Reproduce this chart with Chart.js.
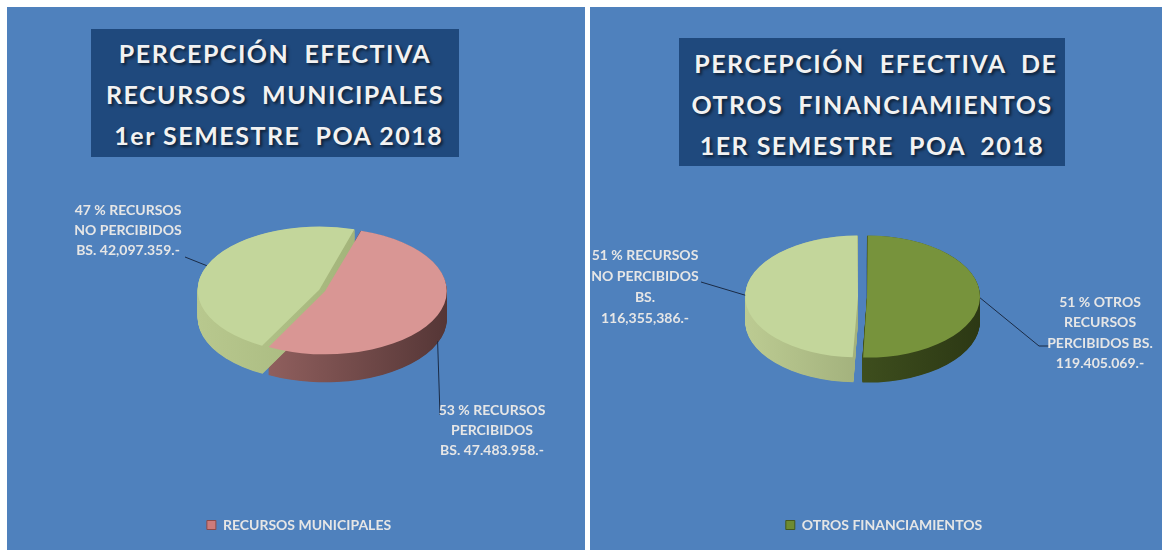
<!DOCTYPE html>
<html>
<head>
<meta charset="utf-8">
<script src="https://cdn.jsdelivr.net/npm/chart.js@4/dist/chart.umd.min.js"></script>
<style>
  body { margin: 0; background: #fff; width: 1162px; height: 550px; overflow: hidden; position: relative; font-family: Lato, sans-serif; }
  .panel { position: absolute; top: 7px; height: 543px; background: #4F81BD; }
  #p1 { left: 7px; width: 578px; }
  #p2 { left: 590px; width: 572px; }
  .panel canvas { position: absolute; left: 0; top: 0; }
  .title { position: absolute; box-sizing: border-box; background: #1F497D; color: #F2F2F2; font-weight: bold;
           font-size: 25px; line-height: 41px; letter-spacing: 1.5px; text-align: center; white-space: pre;
           text-shadow: 2px 2px 3px rgba(0,0,0,0.6); }
  #t1 { left: 84px; top: 22px; width: 368px; height: 128px; padding-top: 4px; }
  #t2 { left: 89px; top: 31px; width: 386px; height: 128px; padding-top: 5px; }
</style>
</head>
<body>
<div class="panel" id="p1">
  <canvas id="c1" width="578" height="543"></canvas>
  <div class="title" id="t1">PERCEPCIÓN  EFECTIVA
RECURSOS  MUNICIPALES
 1er SEMESTRE  POA 2018</div>
</div>
<div class="panel" id="p2">
  <canvas id="c2" width="572" height="543"></canvas>
  <div class="title" id="t2"> PERCEPCIÓN  EFECTIVA  DE
OTROS  FINANCIAMIENTOS
1ER SEMESTRE  POA  2018</div>
</div>
<script>
// datos
var muniLabels = ['RECURSOS PERCIBIDOS', 'RECURSOS NO PERCIBIDOS'];
var muniValues = [47483958, 42097359];
var muniText = [
  ['53 % RECURSOS', 'PERCIBIDOS', 'BS. 47.483.958.-'],
  ['47 % RECURSOS', 'NO PERCIBIDOS', 'BS. 42,097.359.-']
];

var otrosLabels = ['OTROS RECURSOS PERCIBIDOS', 'RECURSOS NO PERCIBIDOS'];
var otrosValues = [119405069, 116355386];
var otrosText = [
  ['51 % OTROS', 'RECURSOS', 'PERCIBIDOS BS.', '119.405.069.-'],
  ['51 % RECURSOS', 'NO PERCIBIDOS', 'BS.', '116,355,386.-']
];

// chart.js mueve el arco offset/4 y ademas agranda el radio
function arcShift(a) { return (a.options.offset || 0) / 4; }
function arcRadius(a) {
  var fix = 1 - Math.sin(Math.min(Math.PI, a.circumference || 0));
  return a.outerRadius + arcShift(a) * fix;
}

// pastel "3D": aplasta el circulo y dibuja el costado
var pie3d = {
  id: 'pie3d',
  beforeDatasetsDraw: function (chart, args, o) {
    var ctx = chart.ctx;
    var arcs = chart.getDatasetMeta(0).data;
    var c = arcs[0];
    ctx.save();
    ctx.translate(o.cx, o.cy);
    ctx.scale(1, o.squash);
    ctx.translate(-c.x, -c.y);
    var depth = o.depth / o.squash;
    arcs.forEach(function (a, i) {
      var mid = (a.startAngle + a.endAngle) / 2;
      var off = arcShift(a), R = arcRadius(a);
      var x = a.x + Math.cos(mid) * off, y = a.y + Math.sin(mid) * off;
      var g = ctx.createLinearGradient(x - R, 0, x + R, 0);
      g.addColorStop(0, o.sides[i][0]);
      g.addColorStop(1, o.sides[i][1]);
      ctx.fillStyle = g;
      for (var d = depth; d > 0; d -= 1) {
        ctx.beginPath();
        ctx.moveTo(x, y + d);
        ctx.arc(x, y + d, R, a.startAngle, a.endAngle);
        ctx.closePath();
        ctx.fill();
      }
    });
  },
  afterDatasetsDraw: function (chart) {
    chart.ctx.restore();
  },
  afterDraw: function (chart, args, o) {
    var ctx = chart.ctx;
    var arcs = chart.getDatasetMeta(0).data;
    ctx.save();
    ctx.font = 'bold 14px Lato';
    ctx.textAlign = 'center';
    ctx.textBaseline = 'middle';
    o.labels.forEach(function (lb, i) {
      var a = arcs[i];
      var mid = (a.startAngle + a.endAngle) / 2;
      var r = arcRadius(a) + arcShift(a);
      var ex = o.cx + Math.cos(mid) * r;
      var ey = o.cy + Math.sin(mid) * r * o.squash + (lb.drop ? o.depth - 2 : 0);
      ctx.strokeStyle = '#1B2B45';
      ctx.lineWidth = 1;
      ctx.beginPath();
      ctx.moveTo(ex, ey);
      lb.path.forEach(function (p) { ctx.lineTo(p[0], p[1]); });
      ctx.stroke();
      ctx.fillStyle = '#E6E6E6';
      o.text[i].forEach(function (t, j) { ctx.fillText(t, lb.x, lb.y + j * lb.lh); });
    });
    ctx.restore();
  }
};

function oneLegend(color, border) {
  return function (chart) {
    return [{
      text: chart.data.datasets[0].label,
      fillStyle: color, strokeStyle: border, lineWidth: 1,
      fontColor: '#E6E6E6', hidden: false, datasetIndex: 0
    }];
  };
}

var legendFont = { family: 'Lato', weight: 'bold', size: 14 };

new Chart(document.getElementById('c1'), {
  type: 'pie',
  data: {
    labels: muniLabels,
    datasets: [{
      label: 'RECURSOS MUNICIPALES',
      data: muniValues,
      backgroundColor: ['#D99694', '#C3D69B'],
      borderWidth: 0,
      offset: [11.4, 14],
      clip: false
    }]
  },
  options: {
    responsive: false,
    animation: false,
    rotation: 17,
    radius: 118.8,
    layout: { padding: { bottom: 8, left: 6 } },
    plugins: {
      legend: {
        position: 'bottom',
        labels: { boxWidth: 9, boxHeight: 9, color: '#E6E6E6', font: legendFont, generateLabels: oneLegend('#CD7B7A', '#8C4A49') }
      },
      tooltip: { enabled: false },
      pie3d: {
        cx: 315.5, cy: 283.5, squash: 0.52, depth: 28,
        sides: [['#A56E6C', '#553636'], ['#B8C88E', '#98AA70']],
        text: muniText,
        labels: [
          { x: 485, y: 403, lh: 20, drop: true, path: [[433, 408]] },
          { x: 121, y: 203, lh: 20, path: [[178, 250]] }
        ]
      }
    }
  },
  plugins: [pie3d]
});

new Chart(document.getElementById('c2'), {
  type: 'pie',
  data: {
    labels: otrosLabels,
    datasets: [{
      label: 'OTROS FINANCIAMIENTOS',
      data: otrosValues,
      backgroundColor: ['#77933C', '#C3D69B'],
      borderWidth: 0,
      offset: [18, 18],
      clip: false
    }]
  },
  options: {
    responsive: false,
    animation: false,
    rotation: 0,
    radius: 108.5,
    layout: { padding: { bottom: 8, left: 16 } },
    plugins: {
      legend: {
        position: 'bottom',
        labels: { boxWidth: 9, boxHeight: 9, color: '#E6E6E6', font: legendFont, generateLabels: oneLegend('#6E8B30', '#44581C') }
      },
      tooltip: { enabled: false },
      pie3d: {
        cx: 272.5, cy: 289.5, squash: 0.54, depth: 25,
        sides: [['#4E6226', '#2C3814'], ['#BCCB92', '#8A9868']],
        text: otrosText,
        labels: [
          { x: 510, y: 295, lh: 20.5, path: [[449, 339], [459, 339]] },
          { x: 55, y: 248, lh: 21, path: [[111, 275]] }
        ]
      }
    }
  },
  plugins: [pie3d]
});
</script>
</body>
</html>
